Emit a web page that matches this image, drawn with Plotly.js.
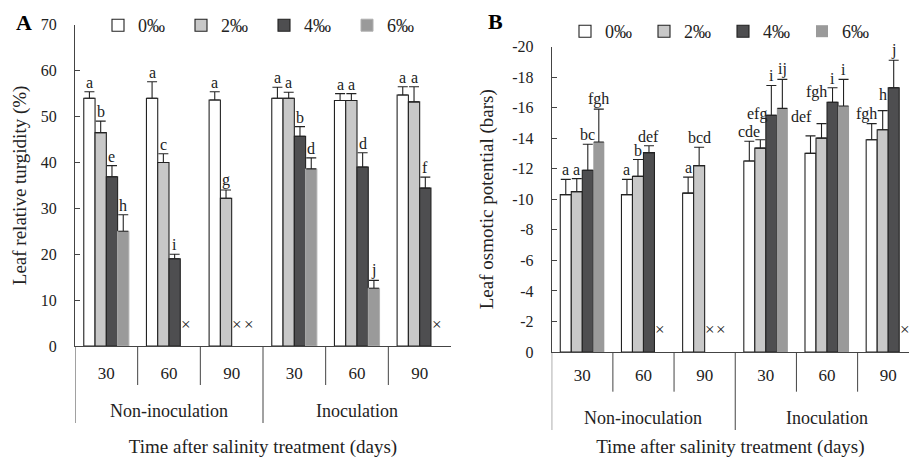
<!DOCTYPE html>
<html><head><meta charset="utf-8">
<script src="https://cdn.plot.ly/plotly-3.0.1.min.js"></script>
<style>html,body{margin:0;padding:0;background:#fff;}#chart{width:909px;height:458px;}</style>
</head><body><div id="chart"></div>
<script>
// ---------- data ----------
const groups = ["Non-inoculation", "Inoculation"];
const days = ["30", "60", "90"];
const levels = ["0‰", "2‰", "4‰", "6‰"];

// Panel A: Leaf relative turgidity (%) — order NI30, NI60, NI90, I30, I60, I90
const turg0 = [54.0, 54.0, 53.6, 54.0, 53.5, 54.7];
const turg2 = [46.5, 40.0, 32.2, 54.0, 53.5, 53.2];
const turg4 = [36.9, 19.0, null, 45.7, 39.0, 34.4];
const turg6 = [25.0, null, null, 38.6, 12.6, null];
const turgErr0 = [1.4, 3.6, 1.8, 2.4, 1.5, 1.8];
const turgErr2 = [2.5, 1.9, 1.8, 1.3, 1.5, 3.3];
const turgErr4 = [2.4, 1.0, null, 2.1, 3.1, 2.4];
const turgErr6 = [3.6, null, null, 2.4, 1.7, null];
const turgLet0 = ["a", "a", "a", "a", "a", "a"];
const turgLet2 = ["b", "c", "g", "a", "a", "a"];
const turgLet4 = ["e", "i", "", "b", "d", "f"];
const turgLet6 = ["h", "", "", "d", "j", ""];

// Panel B: Leaf osmotic potential (bars)
const osm0 = [-10.3, -10.3, -10.4, -12.5, -13.0, -13.9];
const osm2 = [-10.5, -11.5, -12.2, -13.35, -14.0, -14.55];
const osm4 = [-11.9, -13.05, null, -15.5, -16.35, -17.3];
const osm6 = [-13.75, null, null, -15.95, -16.1, null];
const osmErr0 = [1.0, 1.0, 1.05, 1.3, 1.15, 1.05];
const osmErr2 = [0.85, 1.1, 1.2, 0.55, 0.95, 1.25];
const osmErr4 = [1.7, 0.45, null, 1.95, 0.95, 1.8];
const osmErr6 = [2.15, null, null, 1.9, 1.75, null];
const osmLet0 = ["a", "a", "a", "cde", "def", "fgh"];
const osmLet2 = ["a", "b", "bcd", "efg", "fgh", "h"];
const osmLet4 = ["bc", "def", "", "i", "i", "j"];
const osmLet6 = ["fgh", "", "", "ij", "i", ""];

const yTicksA = [0, 10, 20, 30, 40, 50, 60, 70];
const yTicksB = [0, -2, -4, -6, -8, -10, -12, -14, -16, -18, -20];
const yTickTextB = ["0", "-2", "-4", "-6", "-8", "-10", "-12", "-14", "-16", "-18", "-20"];

// ---------- style ----------
const FONT = "'Liberation Serif', 'Times New Roman', serif";
const INK = "#222";
const fills = ["#ffffff", "#c8c8c8", "#4e4e50", "#9a9a9a"];
const W = 909, H = 458;
const py = p => 1 - p / H;
const px = p => p / W;
const BARGAP = 0.28;
const slot = (1 - BARGAP) / levels.length;
// pixel nudges for crowded letter labels in panel B (key: "level,index")
const nudgeB = {"1,3": [-3, 16], "0,4": [-9, 10], "1,4": [-5, 22], "1,5": [0, 7], "0,5": [-5, 0]};

const xs = [];
groups.forEach((g, gi) => days.forEach((d, di) => xs.push(gi * days.length + di)));
const tickText = groups.flatMap(() => days);

const panels = [
  {xa: "x", ya: "y", legend: "legend", sign: 1, vals: [turg0, turg2, turg4, turg6], errs: [turgErr0, turgErr2, turgErr4, turgErr6],
   lets: [turgLet0, turgLet2, turgLet4, turgLet6], crossY: 4.6, lines: [INK, INK, INK, "#b0b0b0"], lw: [1.1, 1.1, 1.1, 1], nudge: {}},
  {xa: "x2", ya: "y2", legend: "legend2", sign: -1, vals: [osm0, osm2, osm4, osm6], errs: [osmErr0, osmErr2, osmErr4, osmErr6],
   lets: [osmLet0, osmLet2, osmLet4, osmLet6], crossY: -1.45, lines: [INK, INK, INK, fills[3]], lw: [1.1, 1.1, 1.1, 0], nudge: nudgeB}
];

const traces = [];
const annotations = [];
panels.forEach(p => {
  levels.forEach((lv, k) => {
    const v = p.vals[k], e = p.errs[k].map(x => x == null ? 0 : x);
    const zeros = e.map(() => 0);
    traces.push({
      type: "bar", name: lv, x: xs, y: v, xaxis: p.xa, yaxis: p.ya, legend: p.legend,
      marker: {color: fills[k], line: {color: p.lines[k], width: p.lw[k]}},
      error_y: {type: "data", symmetric: false, array: p.sign > 0 ? e : zeros, arrayminus: p.sign > 0 ? zeros : e,
        color: INK, thickness: 1.1, width: 5},
      hoverinfo: "skip"
    });
    v.forEach((val, i) => {
      const xpos = xs[i] + (k - (levels.length - 1) / 2) * slot;
      if (val == null) {
        annotations.push({xref: p.xa, yref: p.ya, x: xpos, y: p.crossY, text: "×", showarrow: false,
          font: {family: FONT, size: 17, color: INK}, xanchor: "center", yanchor: "middle"});
      } else if (p.lets[k][i]) {
        const nd = p.nudge[k + "," + i] || [0, 0];
        annotations.push({xref: p.xa, yref: p.ya, x: xpos, y: val + p.sign * (p.errs[k][i] || 0), text: p.lets[k][i],
          showarrow: false, font: {family: FONT, size: 16, color: INK}, xanchor: "center", yanchor: "bottom",
          xshift: nd[0], yshift: -1 + nd[1]});
      }
    });
  });
});

// category dividers + group labels
const shapes = [];
const geo = [
  {xa: "x", base: 346, inner: 385, outer: 423, glab: 411},
  {xa: "x2", base: 352, inner: 391.7, outer: 430, glab: 418}
];
geo.forEach(g => {
  xs.forEach((x, i) => {
    const outer = i % days.length === 0;
    shapes.push({type: "line", xref: g.xa, yref: "paper", x0: x - 0.5, x1: x - 0.5,
      y0: py(g.base), y1: py(outer ? g.outer : g.inner), line: {color: "#444", width: 1}});
  });
  groups.forEach((gr, gi) => {
    annotations.push({xref: g.xa, yref: "paper", x: gi * days.length + (days.length - 1) / 2, y: py(g.glab),
      text: gr, showarrow: false, font: {family: FONT, size: 18, color: INK}, yanchor: "middle"});
  });
});

annotations.push({xref: "paper", yref: "paper", x: px(24), y: py(22), text: "<b>A</b>", showarrow: false,
  font: {family: FONT, size: 22, color: "#000"}, xanchor: "center", yanchor: "middle"});
annotations.push({xref: "paper", yref: "paper", x: px(495), y: py(21), text: "<b>B</b>", showarrow: false,
  font: {family: FONT, size: 22, color: "#000"}, xanchor: "center", yanchor: "middle"});

const axFont = {family: FONT, size: 16, color: INK};
const titleFont = {family: FONT, size: 19, color: INK};
const xBase = {
  tickvals: xs, ticktext: tickText, ticks: "", showline: true, linecolor: "#444", linewidth: 1,
  showgrid: false, zeroline: false, tickfont: {family: FONT, size: 17, color: INK}
};
const yBase = {
  showline: true, linecolor: "#444", linewidth: 1, ticks: "inside", ticklen: 5, tickcolor: "#444",
  showgrid: false, zeroline: false, tickfont: axFont, ticklabelstandoff: 14
};

const layout = {
  width: W, height: H, margin: {l: 0, r: 0, t: 0, b: 0},
  paper_bgcolor: "#fff", plot_bgcolor: "#fff",
  font: {family: FONT, color: INK},
  barmode: "group", bargap: BARGAP, bargroupgap: 0,
  xaxis: Object.assign({}, xBase, {domain: [px(75), px(451)], range: [-0.5, 5.5], anchor: "y", ticklabelstandoff: 12,
    title: {text: "Time after salinity treatment (days)", font: titleFont, standoff: 59}}),
  yaxis: Object.assign({}, yBase, {domain: [py(346), py(24.8)], range: [0, 70], tickvals: yTicksA, anchor: "x",
    title: {text: "Leaf relative turgidity (%)", font: titleFont, standoff: 9}}),
  xaxis2: Object.assign({}, xBase, {domain: [px(551.7), 1], range: [-0.5, 5.34], anchor: "y2", ticklabelstandoff: 8,
    title: {text: "Time after salinity treatment (days)", font: titleFont, standoff: 57}}),
  yaxis2: Object.assign({}, yBase, {domain: [py(352), py(46.5)], range: [0, -20], tickvals: yTicksB, ticktext: yTickTextB, anchor: "x2",
    title: {text: "Leaf osmotic potential (bars)", font: titleFont, standoff: 13}}),
  legend: {orientation: "h", x: px(98), xanchor: "left", y: py(7), yanchor: "top", entrywidth: 38,
    font: {family: FONT, size: 18, color: INK}, bgcolor: "rgba(0,0,0,0)", traceorder: "normal"},
  legend2: {orientation: "h", x: px(565), xanchor: "left", y: py(13), yanchor: "top", entrywidth: 34,
    font: {family: FONT, size: 18, color: INK}, bgcolor: "rgba(0,0,0,0)", traceorder: "normal"},
  shapes: shapes, annotations: annotations
};

Plotly.newPlot("chart", traces, layout, {displayModeBar: false, staticPlot: true});
</script>
</body></html>
